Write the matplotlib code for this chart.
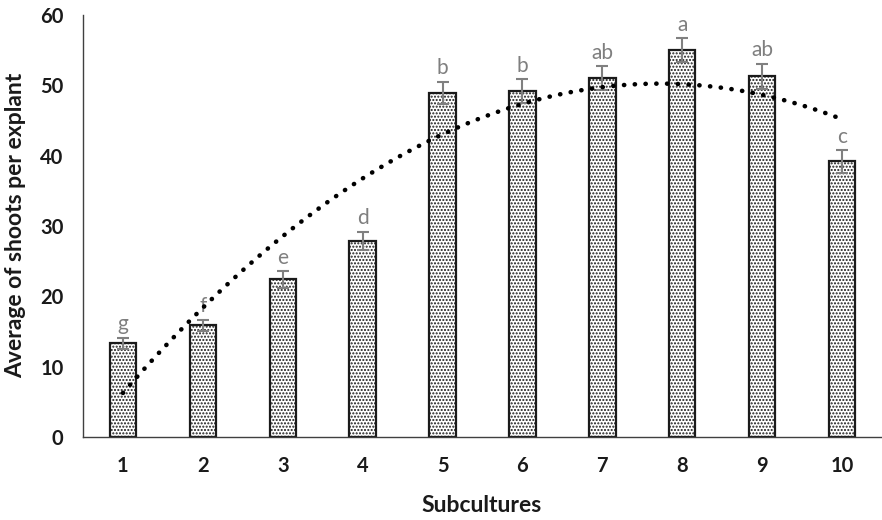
import numpy as np
import matplotlib
matplotlib.use("Agg")
import matplotlib.pyplot as plt

subcultures = [1, 2, 3, 4, 5, 6, 7, 8, 9, 10]
means = [13.3, 15.9, 22.4, 27.9, 48.9, 49.2, 51.0, 55.0, 51.3, 39.2]
errors = [0.8, 0.8, 1.2, 1.3, 1.6, 1.7, 1.7, 1.7, 1.8, 1.6]
letters = ["g", "f", "e", "d", "b", "b", "ab", "a", "ab", "c"]

plt.rcParams['font.family'] = ['Lato', 'DejaVu Sans']
plt.rcParams['hatch.linewidth'] = 1.0

W, H = 882, 520
fig = plt.figure(figsize=(W / 100, H / 100), dpi=100)
ax = fig.add_axes([83 / W, 1 - 437 / H, 1 - 83 / W, (437 - 15) / H])

x = np.array(subcultures, dtype=float)
y = np.array(means)
ax.bar(x, y, width=0.33, facecolor='white', edgecolor='#1a1a1a',
       linewidth=1.6, hatch='.....', zorder=2)
ax.errorbar(x, y, yerr=errors, fmt='none', ecolor='#808080',
            elinewidth=1.5, capsize=4.3, capthick=1.5, zorder=3)

for xi, yi, ei, lab in zip(x, y, errors, letters):
    ax.annotate(lab, (xi, yi + ei), xytext=(0, 2.5), textcoords='offset points',
                ha='center', va='bottom', color='#7f7f7f', fontsize=15)

coef = np.polyfit(x, y, 2)
xt = np.linspace(x.min(), x.max(), 300)
ax.plot(xt, np.polyval(coef, xt), color='black', linewidth=3.3,
        linestyle=(0, (0.05, 2.3)), dash_capstyle='round', zorder=4)

ax.set_xlim(0.5, 10.5)
ax.set_ylim(0, 60)
ax.set_yticks(range(0, 61, 10))
ax.set_xticks(x)
ax.set_xticklabels([str(s) for s in subcultures])
ax.tick_params(axis='both', length=0, labelsize=14.5)
ax.tick_params(axis='y', pad=14)
ax.tick_params(axis='x', pad=14)
for lab in ax.get_xticklabels() + ax.get_yticklabels():
    lab.set_fontweight('bold')
    lab.set_color('#1a1a1a')

for side in ['top', 'right']:
    ax.spines[side].set_visible(False)
for side in ['left', 'bottom']:
    ax.spines[side].set_color('#404040')
    ax.spines[side].set_linewidth(1.0)

fig.text(16 / W, 1 - 225 / H, 'Average of shoots per explant', rotation=90,
         ha='center', va='center', fontsize=16.5, fontweight='bold',
         color='#1a1a1a')
fig.text(482 / W, 1 - 506 / H, 'Subcultures', ha='center', va='center',
         fontsize=16.5, fontweight='bold', color='#1a1a1a')

fig.savefig('out.png', dpi=100)
